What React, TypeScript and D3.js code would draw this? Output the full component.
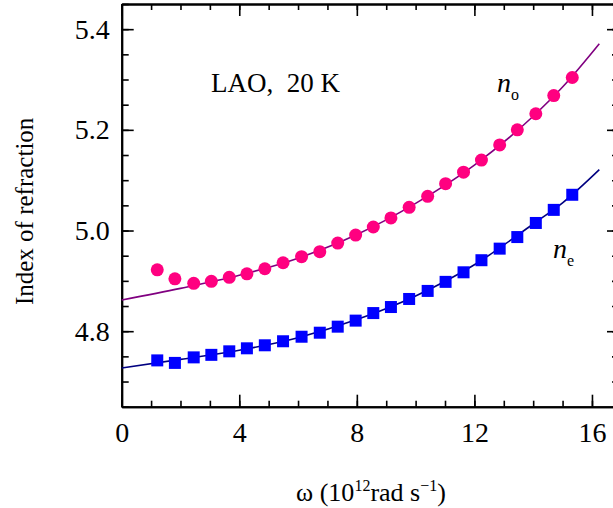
import * as d3 from 'd3';
import { useEffect, useRef } from 'react';

// measured points (omega in 10^12 rad/s)
const omega = [1.21, 1.81, 2.45, 3.05, 3.66, 4.26, 4.87, 5.49, 6.12, 6.74, 7.35, 7.96, 8.56, 9.16, 9.78, 10.41, 11.02, 11.63, 12.24, 12.86, 13.46, 14.09, 14.7, 15.33];
const nO = [4.922, 4.904, 4.895, 4.899, 4.907, 4.914, 4.924, 4.936, 4.948, 4.958, 4.975, 4.991, 5.007, 5.025, 5.046, 5.068, 5.093, 5.116, 5.14, 5.17, 5.2, 5.232, 5.268, 5.304];
const nE = [4.742, 4.737, 4.748, 4.753, 4.76, 4.766, 4.772, 4.78, 4.789, 4.797, 4.809, 4.821, 4.836, 4.848, 4.864, 4.88, 4.898, 4.917, 4.941, 4.964, 4.987, 5.015, 5.041, 5.071];

// fitted curves
const fitOmega = [0, 2, 4, 6, 8, 10, 12, 14, 15, 16.25];
const nOFit = [4.862, 4.885, 4.911, 4.945, 4.992, 5.054, 5.130, 5.227, 5.285, 5.371];
const nEFit = [4.727, 4.744, 4.762, 4.787, 4.823, 4.870, 4.932, 5.013, 5.055, 5.121];

const xMajor = [0, 4, 8, 12, 16];
const yMajor = [4.8, 5.0, 5.2, 5.4];

export default function App() {
  const ref = useRef<SVGSVGElement | null>(null);

  useEffect(() => {
    const svg = d3.select(ref.current);
    svg.selectAll('*').remove();

    const left = 121.7, right = 619, top = 4, bottom = 406.7;
    const x = d3.scaleLinear().domain([0, 16.92]).range([left, right]);
    const y = d3.scaleLinear().domain([4.65, 5.45]).range([bottom, top]);
    const font = '"Liberation Serif", "Times New Roman", serif';

    const xMinor = d3.range(0, 17, 1);
    const yMinor = d3.range(4.65, 5.451, 0.05).map((v) => +v.toFixed(2));

    const style = (g: any, labels: boolean) => {
      g.select('.domain').attr('stroke-width', 2);
      g.selectAll('.tick line').attr('stroke-width', 1.6);
      g.selectAll('text').attr('font-family', font).attr('font-size', labels ? 28 : 0).attr('fill', '#000');
    };

    // minor ticks
    svg.append('g').attr('transform', `translate(0,${bottom})`)
      .call(d3.axisBottom(x).tickValues(xMinor).tickSize(-6).tickSizeOuter(0).tickFormat(() => ''))
      .call((g) => style(g, false));
    svg.append('g').attr('transform', `translate(0,${top})`)
      .call(d3.axisTop(x).tickValues(xMinor).tickSize(-6).tickSizeOuter(0).tickFormat(() => ''))
      .call((g) => style(g, false));
    svg.append('g').attr('transform', `translate(${left},0)`)
      .call(d3.axisLeft(y).tickValues(yMinor).tickSize(-7).tickSizeOuter(0).tickFormat(() => ''))
      .call((g) => style(g, false));
    svg.append('g').attr('transform', `translate(${right},0)`)
      .call(d3.axisRight(y).tickValues(yMinor).tickSize(-7).tickSizeOuter(0).tickFormat(() => ''))
      .call((g) => style(g, false));

    // major ticks + labels
    svg.append('g').attr('transform', `translate(0,${bottom})`)
      .call(d3.axisBottom(x).tickValues(xMajor).tickSize(-12).tickSizeOuter(0).tickPadding(15).tickFormat(d3.format('d')))
      .call((g) => style(g, true));
    svg.append('g').attr('transform', `translate(0,${top})`)
      .call(d3.axisTop(x).tickValues(xMajor).tickSize(-12).tickSizeOuter(0).tickFormat(() => ''))
      .call((g) => style(g, false));
    svg.append('g').attr('transform', `translate(${left},0)`)
      .call(d3.axisLeft(y).tickValues(yMajor).tickSize(-12).tickSizeOuter(0).tickPadding(12).tickFormat(d3.format('.1f')))
      .call((g) => style(g, true));
    svg.append('g').attr('transform', `translate(${right},0)`)
      .call(d3.axisRight(y).tickValues(yMajor).tickSize(-12).tickSizeOuter(0).tickFormat(() => ''))
      .call((g) => style(g, false));

    // fit lines
    const lineO = d3.line<number>().x((d) => x(d)).y((d, i) => y(nOFit[i])).curve(d3.curveMonotoneX);
    const lineE = d3.line<number>().x((d) => x(d)).y((d, i) => y(nEFit[i])).curve(d3.curveMonotoneX);
    svg.append('path').attr('d', lineO(fitOmega))
      .attr('fill', 'none').attr('stroke', '#800080').attr('stroke-width', 1.6);
    svg.append('path').attr('d', lineE(fitOmega))
      .attr('fill', 'none').attr('stroke', '#000080').attr('stroke-width', 1.6);

    // points
    svg.append('g').selectAll('circle').data(omega).join('circle')
      .attr('cx', (d) => x(d)).attr('cy', (d, i) => y(nO[i])).attr('r', 6.5)
      .attr('fill', '#ff0080');
    svg.append('g').selectAll('rect').data(omega).join('rect')
      .attr('x', (d) => x(d) - 6).attr('y', (d, i) => y(nE[i]) - 6)
      .attr('width', 12).attr('height', 12)
      .attr('fill', '#0000ff');

    // annotations
    svg.append('text').attr('x', 211).attr('y', 91.5)
      .attr('font-family', font).attr('font-size', 27).style('white-space', 'pre')
      .text('LAO,  20 K');

    const sub = (px: number, py: number, s: string) => {
      const t = svg.append('text').attr('x', px).attr('y', py).attr('font-family', font);
      t.append('tspan').attr('font-style', 'italic').attr('font-size', 28).text('n');
      t.append('tspan').attr('font-size', 16).attr('dx', 0).attr('dy', 8).text(s);
    };
    sub(497, 92, 'o');
    sub(553, 258, 'e');

    svg.append('text')
      .attr('transform', `translate(33,${(top + bottom) / 2 + 6}) rotate(-90)`)
      .attr('text-anchor', 'middle').attr('font-family', font).attr('font-size', 25)
      .text('Index of refraction');

    const xl = svg.append('text').attr('x', 371).attr('y', 501)
      .attr('text-anchor', 'middle').attr('font-family', font).attr('font-size', 26);
    xl.append('tspan').text('ω (10');
    xl.append('tspan').attr('font-size', 16).attr('dy', -10).text('12');
    xl.append('tspan').attr('dy', 10).text('rad s');
    xl.append('tspan').attr('font-size', 16).attr('dy', -10).text('−1');
    xl.append('tspan').attr('dy', 10).text(')');
  }, []);

  return (
    <svg ref={ref} width={613} height={508}
      style={{ position: 'absolute', left: 0, top: 0, background: '#fff' }} />
  );
}
